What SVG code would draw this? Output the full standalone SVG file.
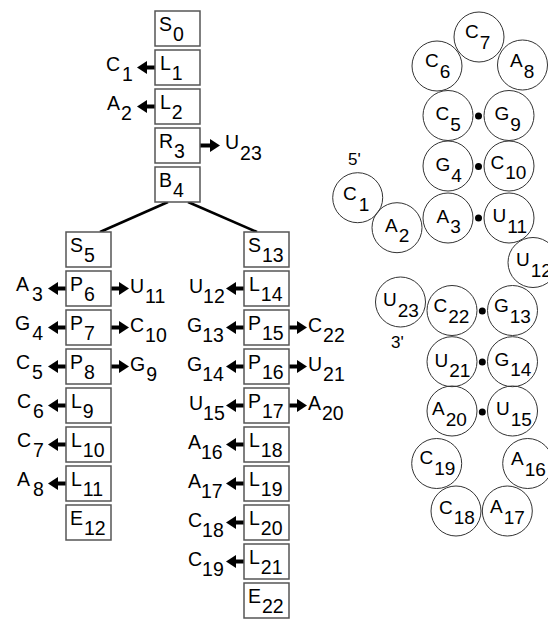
<svg xmlns="http://www.w3.org/2000/svg" width="548" height="619" viewBox="0 0 548 619">
<defs>
<marker id="ah" viewBox="0 0 10 13" refX="2" refY="6.5" markerWidth="10" markerHeight="13" markerUnits="userSpaceOnUse" orient="auto">
<path d="M0,0 L10,6.5 L0,13 z" fill="#000"/>
</marker>
</defs>
<style>
text{font-family:"Liberation Sans",Arial,sans-serif;font-size:19.5px;fill:#000}
.box rect{fill:#fff;stroke:#555;stroke-width:1.5}
.arr{stroke:#000;stroke-width:4;marker-end:url(#ah)}
.edge{stroke:#000;stroke-width:2.5;fill:none}
.nt circle{fill:none;stroke:#333;stroke-width:1}
.nt text{font-size:19px}
.dot{fill:#000}
</style>
<rect width="548" height="619" fill="#fff"/>

<g id="connectors">
<path class="edge" d="M168,202 L100,232"/>
<path class="edge" d="M188,202 L257,232"/>
<line class="arr" x1="155" y1="67.5" x2="145" y2="67.5"/>
<line class="arr" x1="155" y1="106.5" x2="145" y2="106.5"/>
<line class="arr" x1="200" y1="145.5" x2="212" y2="145.5"/>
<line class="arr" x1="66" y1="288.5" x2="56" y2="288.5"/>
<line class="arr" x1="111" y1="288.5" x2="121" y2="288.5"/>
<line class="arr" x1="66" y1="327.5" x2="56" y2="327.5"/>
<line class="arr" x1="111" y1="327.5" x2="121" y2="327.5"/>
<line class="arr" x1="66" y1="366.5" x2="56" y2="366.5"/>
<line class="arr" x1="111" y1="366.5" x2="121" y2="366.5"/>
<line class="arr" x1="66" y1="405.5" x2="56" y2="405.5"/>
<line class="arr" x1="66" y1="444.5" x2="56" y2="444.5"/>
<line class="arr" x1="66" y1="483.5" x2="56" y2="483.5"/>
<line class="arr" x1="244" y1="288.5" x2="234" y2="288.5"/>
<line class="arr" x1="244" y1="327.5" x2="234" y2="327.5"/>
<line class="arr" x1="289" y1="327.5" x2="299" y2="327.5"/>
<line class="arr" x1="244" y1="366.5" x2="234" y2="366.5"/>
<line class="arr" x1="289" y1="366.5" x2="299" y2="366.5"/>
<line class="arr" x1="244" y1="405.5" x2="234" y2="405.5"/>
<line class="arr" x1="289" y1="405.5" x2="299" y2="405.5"/>
<line class="arr" x1="244" y1="444.5" x2="234" y2="444.5"/>
<line class="arr" x1="244" y1="483.5" x2="234" y2="483.5"/>
<line class="arr" x1="244" y1="522.5" x2="234" y2="522.5"/>
<line class="arr" x1="244" y1="561.5" x2="234" y2="561.5"/>
</g>

<!-- top column -->
<g id="S0" class="box"><rect x="155" y="11" width="45" height="35"/><text x="159" y="31">S<tspan dx="1" dy="9.5">0</tspan></text></g>
<g id="L1" class="box"><rect x="155" y="50" width="45" height="35"/><text x="160" y="70">L<tspan dx="1" dy="9.5">1</tspan></text></g>
<g id="L2" class="box"><rect x="155" y="89" width="45" height="35"/><text x="160" y="109">L<tspan dx="1" dy="9.5">2</tspan></text></g>
<g id="R3" class="box"><rect x="155" y="128" width="45" height="35"/><text x="159" y="148">R<tspan dx="1" dy="9.5">3</tspan></text></g>
<g id="B4" class="box"><rect x="155" y="167" width="45" height="35"/><text x="159" y="187">B<tspan dx="1" dy="9.5">4</tspan></text></g>
<g id="lab-C1"><text x="106" y="71">C<tspan dx="2" dy="10">1</tspan></text></g>
<g id="lab-A2"><text x="107" y="110">A<tspan dx="1" dy="10">2</tspan></text></g>
<g id="lab-U23"><text x="225" y="149">U<tspan dx="1" dy="11">23</tspan></text></g>

<!-- left column -->
<g id="S5" class="box"><rect x="66" y="232" width="45" height="35"/><text x="70" y="252">S<tspan dx="1" dy="9.5">5</tspan></text></g>
<g id="P6" class="box"><rect x="66" y="271" width="45" height="35"/><text x="70" y="291">P<tspan dx="1" dy="9.5">6</tspan></text></g>
<g id="P7" class="box"><rect x="66" y="310" width="45" height="35"/><text x="70" y="330">P<tspan dx="1" dy="9.5">7</tspan></text></g>
<g id="P8" class="box"><rect x="66" y="349" width="45" height="35"/><text x="70" y="369">P<tspan dx="1" dy="9.5">8</tspan></text></g>
<g id="L9" class="box"><rect x="66" y="388" width="45" height="35"/><text x="71" y="408">L<tspan dx="1" dy="9.5">9</tspan></text></g>
<g id="L10" class="box"><rect x="66" y="427" width="45" height="35"/><text x="71" y="447">L<tspan dx="1" dy="9.5">10</tspan></text></g>
<g id="L11" class="box"><rect x="66" y="466" width="45" height="35"/><text x="71" y="486">L<tspan dx="1" dy="9.5">11</tspan></text></g>
<g id="E12" class="box"><rect x="66" y="505" width="45" height="35"/><text x="70" y="525">E<tspan dx="1" dy="9.5">12</tspan></text></g>
<g id="lab-A3"><text x="16" y="291">A<tspan dx="3" dy="10">3</tspan></text></g>
<g id="lab-G4"><text x="15" y="330">G<tspan dx="2" dy="10">4</tspan></text></g>
<g id="lab-C5"><text x="16" y="369">C<tspan dx="2" dy="10">5</tspan></text></g>
<g id="lab-C6"><text x="17" y="408">C<tspan dx="2" dy="10">6</tspan></text></g>
<g id="lab-C7"><text x="17" y="447">C<tspan dx="2" dy="10">7</tspan></text></g>
<g id="lab-A8"><text x="17" y="486">A<tspan dx="3" dy="10">8</tspan></text></g>
<g id="lab-U11"><text x="130" y="293">U<tspan dx="1" dy="10">11</tspan></text></g>
<g id="lab-C10"><text x="130" y="332">C<tspan dx="1" dy="10">10</tspan></text></g>
<g id="lab-G9"><text x="130" y="371">G<tspan dx="1" dy="10">9</tspan></text></g>

<!-- right column -->
<g id="S13" class="box"><rect x="244" y="232" width="45" height="35"/><text x="248" y="252">S<tspan dx="1" dy="9.5">13</tspan></text></g>
<g id="L14" class="box"><rect x="244" y="271" width="45" height="35"/><text x="249" y="291">L<tspan dx="1" dy="9.5">14</tspan></text></g>
<g id="P15" class="box"><rect x="244" y="310" width="45" height="35"/><text x="248" y="330">P<tspan dx="1" dy="9.5">15</tspan></text></g>
<g id="P16" class="box"><rect x="244" y="349" width="45" height="35"/><text x="248" y="369">P<tspan dx="1" dy="9.5">16</tspan></text></g>
<g id="P17" class="box"><rect x="244" y="388" width="45" height="35"/><text x="248" y="408">P<tspan dx="1" dy="9.5">17</tspan></text></g>
<g id="L18" class="box"><rect x="244" y="427" width="45" height="35"/><text x="249" y="447">L<tspan dx="1" dy="9.5">18</tspan></text></g>
<g id="L19" class="box"><rect x="244" y="466" width="45" height="35"/><text x="249" y="486">L<tspan dx="1" dy="9.5">19</tspan></text></g>
<g id="L20" class="box"><rect x="244" y="505" width="45" height="35"/><text x="249" y="525">L<tspan dx="1" dy="9.5">20</tspan></text></g>
<g id="L21" class="box"><rect x="244" y="544" width="45" height="35"/><text x="249" y="564">L<tspan dx="1" dy="9.5">21</tspan></text></g>
<g id="E22" class="box"><rect x="244" y="583" width="45" height="35"/><text x="248" y="603">E<tspan dx="1" dy="9.5">22</tspan></text></g>
<g id="lab-U12"><text x="189" y="293">U<tspan dy="10">12</tspan></text></g>
<g id="lab-G13"><text x="187" y="332">G<tspan dy="10">13</tspan></text></g>
<g id="lab-G14"><text x="187" y="371">G<tspan dy="10">14</tspan></text></g>
<g id="lab-U15"><text x="189" y="410">U<tspan dy="10">15</tspan></text></g>
<g id="lab-A16"><text x="188" y="449">A<tspan dy="10">16</tspan></text></g>
<g id="lab-A17"><text x="188" y="488">A<tspan dy="10">17</tspan></text></g>
<g id="lab-C18"><text x="188" y="527">C<tspan dy="10">18</tspan></text></g>
<g id="lab-C19"><text x="188" y="566">C<tspan dy="10">19</tspan></text></g>
<g id="lab-C22"><text x="308" y="332">C<tspan dx="1" dy="10">22</tspan></text></g>
<g id="lab-U21"><text x="308" y="371">U<tspan dx="1" dy="10">21</tspan></text></g>
<g id="lab-A20"><text x="308" y="410">A<tspan dx="1" dy="10">20</tspan></text></g>

<!-- RNA structure -->
<g id="rna-C7" class="nt"><circle cx="479" cy="37" r="25"/><text x="465" y="38">C<tspan dx="1" dy="10.5">7</tspan></text></g>
<g id="rna-C6" class="nt"><circle cx="437" cy="66" r="25"/><text x="425" y="67">C<tspan dx="1" dy="10.5">6</tspan></text></g>
<g id="rna-A8" class="nt"><circle cx="522.5" cy="65" r="25"/><text x="510" y="67">A<tspan dx="1" dy="10.5">8</tspan></text></g>
<g id="rna-C5" class="nt"><circle cx="448" cy="115.5" r="25"/><text x="435.5" y="120">C<tspan dx="1" dy="10.5">5</tspan></text></g>
<g id="rna-G9" class="nt"><circle cx="509" cy="115.5" r="25"/><text x="494.5" y="120">G<tspan dx="1" dy="10.5">9</tspan></text></g>
<g id="rna-G4" class="nt"><circle cx="448" cy="166" r="25"/><text x="435.5" y="171">G<tspan dx="1" dy="10.5">4</tspan></text></g>
<g id="rna-C10" class="nt"><circle cx="509" cy="166" r="25"/><text x="490.5" y="168.5">C<tspan dx="1" dy="10.5">10</tspan></text></g>
<g id="rna-A3" class="nt"><circle cx="448" cy="218" r="25"/><text x="436.5" y="222.5">A<tspan dx="1" dy="10.5">3</tspan></text></g>
<g id="rna-U11" class="nt"><circle cx="509" cy="218" r="25"/><text x="492.5" y="222">U<tspan dx="1" dy="10.5">11</tspan></text></g>
<g id="rna-C1" class="nt"><circle cx="357.7" cy="197.7" r="25"/><text x="343" y="200">C<tspan dx="2" dy="11">1</tspan></text></g>
<g id="rna-A2" class="nt"><circle cx="397" cy="227.7" r="25"/><text x="385" y="231.5">A<tspan dx="1" dy="10.5">2</tspan></text></g>
<g id="rna-U12" class="nt"><circle cx="533" cy="262.5" r="25"/><text x="516" y="266">U<tspan dx="1" dy="10.5">12</tspan></text></g>
<g id="rna-U23" class="nt"><circle cx="400.5" cy="302" r="25"/><text x="383" y="306">U<tspan dx="1" dy="10.5">23</tspan></text></g>
<g id="rna-C22" class="nt"><circle cx="452" cy="310.5" r="25"/><text x="433.5" y="312">C<tspan dx="1" dy="10.5">22</tspan></text></g>
<g id="rna-G13" class="nt"><circle cx="512.5" cy="310.5" r="25"/><text x="494" y="312">G<tspan dx="1" dy="10.5">13</tspan></text></g>
<g id="rna-U21" class="nt"><circle cx="452" cy="361.7" r="25"/><text x="434.5" y="366.5">U<tspan dx="1" dy="10.5">21</tspan></text></g>
<g id="rna-G14" class="nt"><circle cx="512.5" cy="361.7" r="25"/><text x="494.5" y="365.5">G<tspan dx="1" dy="10.5">14</tspan></text></g>
<g id="rna-A20" class="nt"><circle cx="452" cy="411" r="25"/><text x="432" y="415">A<tspan dx="1" dy="10.5">20</tspan></text></g>
<g id="rna-U15" class="nt"><circle cx="512.5" cy="411" r="25"/><text x="496" y="415">U<tspan dx="1" dy="10.5">15</tspan></text></g>
<g id="rna-C19" class="nt"><circle cx="436.7" cy="463.5" r="25"/><text x="419.5" y="463.5">C<tspan dx="1" dy="11">19</tspan></text></g>
<g id="rna-A16" class="nt"><circle cx="527.7" cy="463.5" r="25"/><text x="511" y="465">A<tspan dx="1" dy="10.5">16</tspan></text></g>
<g id="rna-C18" class="nt"><circle cx="456" cy="511" r="25"/><text x="439" y="513.5">C<tspan dx="1" dy="10.5">18</tspan></text></g>
<g id="rna-A17" class="nt"><circle cx="507.3" cy="511" r="25"/><text x="490" y="513">A<tspan dx="1" dy="10.5">17</tspan></text></g>

<g id="pairs">
<circle class="dot" cx="478.5" cy="116" r="3.5"/>
<circle class="dot" cx="478.5" cy="166.5" r="3.5"/>
<circle class="dot" cx="478.5" cy="218" r="3.5"/>
<circle class="dot" cx="482.3" cy="311" r="3.5"/>
<circle class="dot" cx="482.3" cy="362" r="3.5"/>
<circle class="dot" cx="482.3" cy="412" r="3.5"/>
</g>
<g id="end-labels">
<text x="348" y="165" style="font-size:17px">5'</text>
<text x="391" y="348" style="font-size:17px">3'</text>
</g>
</svg>
